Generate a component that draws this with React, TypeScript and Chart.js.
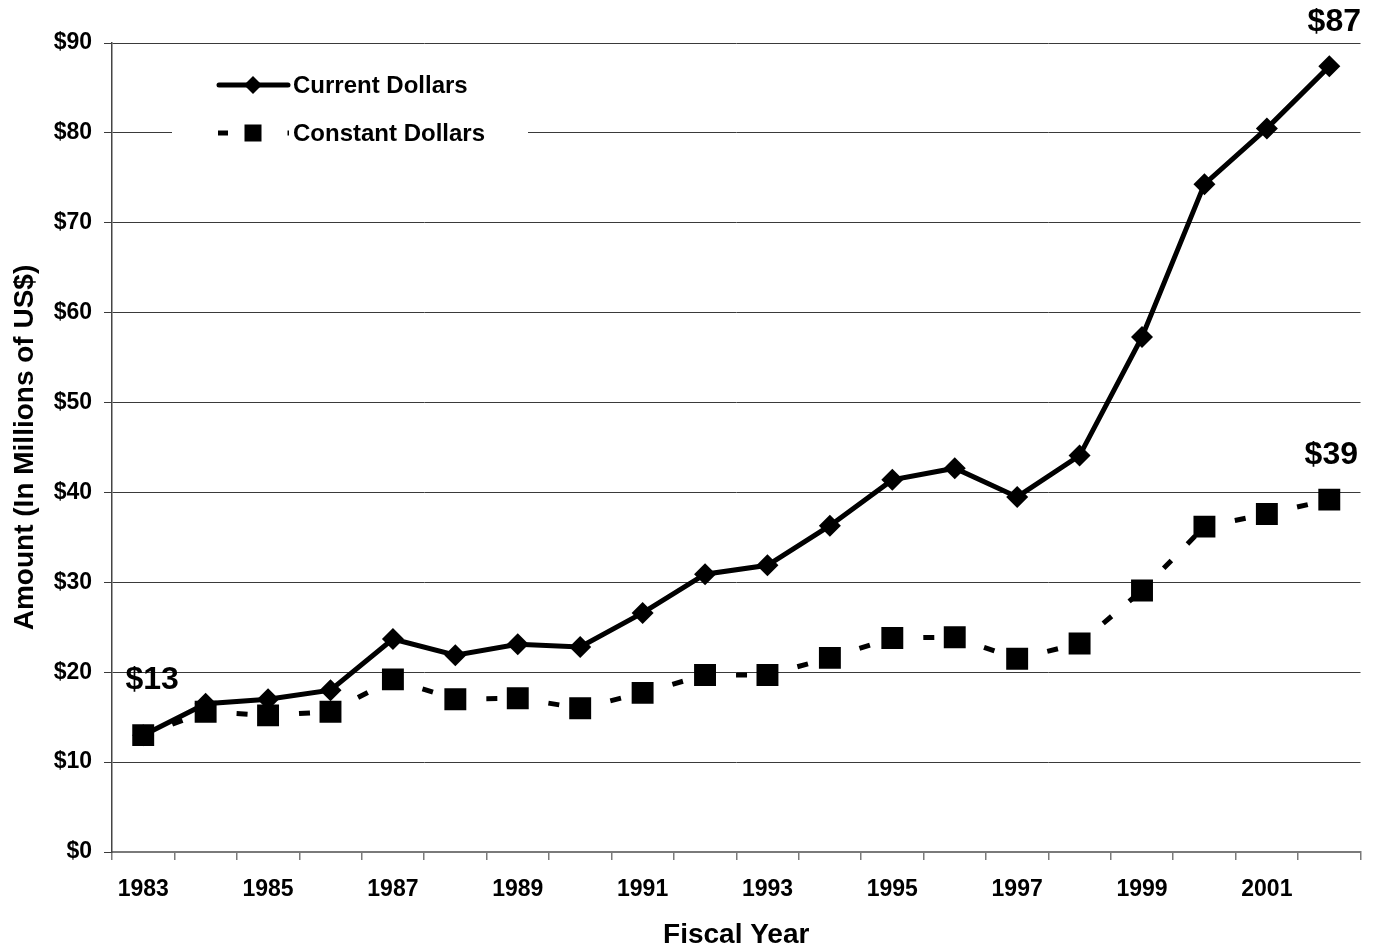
import React, { useEffect, useRef } from 'react';
import { Chart, registerables } from 'chart.js';

Chart.register(...registerables);

const years = ['1983', '1984', '1985', '1986', '1987', '1988', '1989', '1990', '1991', '1992', '1993', '1994', '1995', '1996', '1997', '1998', '1999', '2000', '2001', '2002'];
const xTickLabels = ['1983', '', '1985', '', '1987', '', '1989', '', '1991', '', '1993', '', '1995', '', '1997', '', '1999', '', '2001', ''];
const currentDollars = [13.0, 16.5, 17.0, 18.0, 23.7, 21.9, 23.1, 22.8, 26.6, 30.9, 31.9, 36.3, 41.4, 42.7, 39.5, 44.1, 57.3, 74.3, 80.5, 87.4];
const constantDollars = [13.0, 15.6, 15.2, 15.6, 19.2, 17.0, 17.1, 16.0, 17.7, 19.7, 19.7, 21.6, 23.8, 23.9, 21.5, 23.2, 29.1, 36.2, 37.6, 39.2];
const seriesNames = ['Current Dollars', 'Constant Dollars'];
const yMin = 0;
const yMax = 90;
const yStep = 10;
const annotationTexts = ['$13', '$87', '$39'];
const annotationSeries = [0, 0, 1];
const annotationIndex = [0, 19, 19];

const FONT = '"Liberation Sans", Arial, Helvetica, sans-serif';

const overlayPlugin = {
  id: 'overlay',
  afterDraw(chart: any) {
    const { ctx, chartArea, scales } = chart;
    const x = scales.x;
    const y = scales.y;
    ctx.save();
    // legend box
    const lx = chartArea.left + 60;
    const ly = chartArea.top + 15;
    ctx.fillStyle = '#ffffff';
    ctx.fillRect(lx, ly, 356, 102);
    ctx.fillStyle = '#000';
    ctx.strokeStyle = '#000';
    // current dollars sample
    const r1 = ly + 27;
    ctx.lineWidth = 5;
    ctx.lineCap = 'round';
    ctx.beginPath();
    ctx.moveTo(lx + 47, r1);
    ctx.lineTo(lx + 116, r1);
    ctx.stroke();
    const dc = lx + 81;
    ctx.beginPath();
    ctx.moveTo(dc, r1 - 9);
    ctx.lineTo(dc + 9, r1);
    ctx.lineTo(dc, r1 + 9);
    ctx.lineTo(dc - 9, r1);
    ctx.closePath();
    ctx.fill();
    // constant dollars sample
    const r2 = ly + 75;
    ctx.fillRect(lx + 46, r2 - 2.5, 10, 5);
    ctx.fillRect(dc - 8.5, r2 - 8.5, 17, 17);
    ctx.fillRect(lx + 115.5, r2 - 2.5, 1.5, 5);
    ctx.font = 'bold 24px ' + FONT;
    ctx.textBaseline = 'middle';
    ctx.textAlign = 'left';
    ctx.fillText(seriesNames[0], lx + 121, r1 + 1);
    ctx.fillText(seriesNames[1], lx + 121, r2 + 1);
    // value annotations
    ctx.font = 'bold 32px ' + FONT;
    ctx.textAlign = 'center';
    const dxs = [9, 5, 2];
    const dys = [-55, -44, -44];
    annotationTexts.forEach((t, i) => {
      const data = annotationSeries[i] === 0 ? currentDollars : constantDollars;
      const idx = annotationIndex[i];
      const px = x.getPixelForValue(idx) + dxs[i];
      const py = y.getPixelForValue(data[idx]) + dys[i];
      ctx.fillText(t, px, py);
    });
    ctx.restore();
  },
};

export default function App() {
  const ref = useRef<HTMLCanvasElement | null>(null);
  useEffect(() => {
    document.body.style.margin = '0';
    const canvas = ref.current;
    if (!canvas) return;
    const tickFont = { family: FONT, size: 23, weight: 'bold' as const };
    const titleFont = { family: FONT, size: 28, weight: 'bold' as const };
    const chart = new Chart(canvas, {
      type: 'line',
      data: {
        labels: years,
        datasets: [
          {
            label: seriesNames[0],
            data: currentDollars,
            borderColor: '#000',
            backgroundColor: '#000',
            borderWidth: 5,
            pointStyle: 'rectRot',
            pointRadius: 11,
            pointBorderWidth: 0,
            pointBackgroundColor: '#000',
            tension: 0,
            fill: false,
            order: 1,
          },
          {
            label: seriesNames[1],
            data: constantDollars,
            borderColor: '#000',
            backgroundColor: '#000',
            borderWidth: 5,
            borderDash: [11, 23],
            borderCapStyle: 'butt',
            pointStyle: 'rect',
            pointRadius: 15.5,
            pointBorderWidth: 0,
            pointBackgroundColor: '#000',
            tension: 0,
            fill: false,
            order: 0,
            segment: {
              borderDashOffset: (c: any) => 3 + c.p0DataIndex * 0.0001,
            },
          },
        ],
      },
      options: {
        responsive: false,
        animation: false,
        events: [],
        layout: { padding: { top: 43, right: 12, left: 0, bottom: 0 } },
        plugins: {
          legend: { display: false },
          tooltip: { enabled: false },
        },
        scales: {
          x: {
            type: 'category',
            offset: true,
            grid: {
              offset: true,
              drawOnChartArea: false,
              drawTicks: true,
              tickLength: 8,
              color: '#7a7a7a',
              lineWidth: 1.5,
            },
            border: { color: '#7a7a7a', width: 2 },
            ticks: {
              autoSkip: false,
              maxRotation: 0,
              minRotation: 0,
              padding: 16,
              color: '#000',
              font: tickFont,
              callback: (_v: any, i: number) => xTickLabels[i],
            },
            title: {
              display: true,
              text: 'Fiscal Year',
              color: '#000',
              font: titleFont,
              padding: { top: 0, bottom: 0 },
            },
            afterFit: (s: any) => {
              s.height = 100;
            },
          },
          y: {
            min: yMin,
            max: yMax,
            ticks: {
              stepSize: yStep,
              padding: 12,
              color: '#000',
              font: tickFont,
              callback: (v: any) => '$' + v,
            },
            grid: {
              color: '#3a3a3a',
              lineWidth: 1,
              drawTicks: true,
              tickLength: 8,
            },
            border: { color: '#444', width: 1.5 },
            title: {
              display: true,
              text: 'Amount (In Millions of US$)',
              color: '#000',
              font: titleFont,
              padding: { top: 8, bottom: 0 },
            },
            afterFit: (s: any) => {
              s.width = 112;
            },
          },
        },
      },
      plugins: [overlayPlugin],
    } as any);
    return () => chart.destroy();
  }, []);
  return (
    <div style={{ width: 1376, height: 952, background: '#fff' }}>
      <canvas ref={ref} width={1376} height={952} style={{ display: 'block', width: 1376, height: 952 }} />
    </div>
  );
}
